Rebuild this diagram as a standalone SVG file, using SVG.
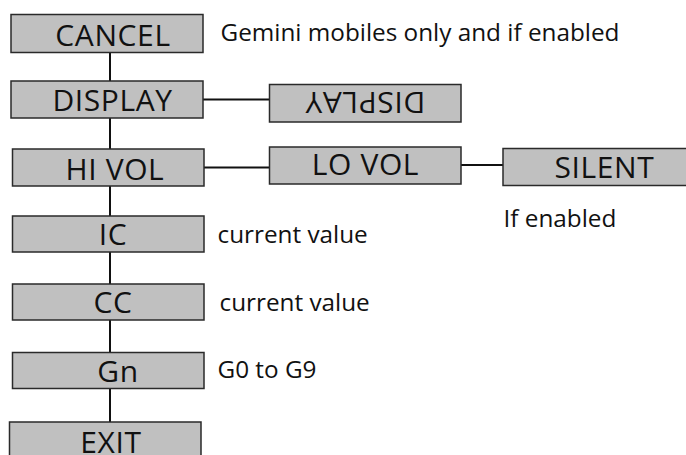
<svg xmlns="http://www.w3.org/2000/svg" width="686" height="455" viewBox="0 0 686 455">
<style>
.box{fill:#c0c0c0;stroke:#2a2a2a;stroke-width:1.5}
.lbl{font-family:"Open Sans","Liberation Sans",sans-serif;font-size:30px;letter-spacing:0.6px;fill:#111;text-anchor:middle}
.note{font-family:"Open Sans","Liberation Sans",sans-serif;font-size:24.3px;fill:#111}
.con{stroke:#111;stroke-width:2;fill:none}
</style>
<rect width="686" height="455" fill="#fff"/>
<g id="connectors">
<line class="con" x1="110" y1="52" x2="110" y2="422"/>
<line class="con" x1="203" y1="99.5" x2="270" y2="99.5"/>
<line class="con" x1="204" y1="167.5" x2="270" y2="167.5"/>
<line class="con" x1="461" y1="165" x2="503" y2="165"/>
</g>
<g id="cancel"><rect class="box" x="11" y="14.5" width="192" height="38"/><text class="lbl" x="113" y="46">CANCEL</text></g>
<g id="display"><rect class="box" x="11" y="81" width="192" height="37"/><text class="lbl" x="112.5" y="111">DISPLAY</text></g>
<g id="display-inverted"><rect class="box" x="269.5" y="84.5" width="191.5" height="37.5"/><text class="lbl" x="365" y="92" transform="rotate(180 365 92)">DISPLAY</text></g>
<g id="hivol"><rect class="box" x="12.5" y="149" width="191.5" height="37"/><text class="lbl" x="115" y="180">HI VOL</text></g>
<g id="lovol"><rect class="box" x="269.5" y="147" width="191.5" height="37"/><text class="lbl" x="365.5" y="174.5">LO VOL</text></g>
<g id="silent"><rect class="box" x="503" y="148.5" width="190" height="37"/><text class="lbl" x="604.5" y="177.5">SILENT</text></g>
<g id="ic"><rect class="box" x="12.5" y="216" width="191.5" height="36"/><text class="lbl" x="113" y="245">IC</text></g>
<g id="cc"><rect class="box" x="12.5" y="284" width="191.5" height="36"/><text class="lbl" x="113" y="313">CC</text></g>
<g id="gn"><rect class="box" x="12.5" y="352.5" width="191.5" height="36"/><text class="lbl" x="118" y="381.5">Gn</text></g>
<g id="exit"><rect class="box" x="9.5" y="422" width="191.5" height="40"/><text class="lbl" x="111" y="452.5">EXIT</text></g>
<g id="notes">
<text class="note" x="220.5" y="40.5">Gemini mobiles only and if enabled</text>
<text class="note" x="503.5" y="227">If enabled</text>
<text class="note" x="217.5" y="243">current value</text>
<text class="note" x="219.5" y="311">current value</text>
<text class="note" x="217.5" y="378">G0 to G9</text>
</g>
</svg>
